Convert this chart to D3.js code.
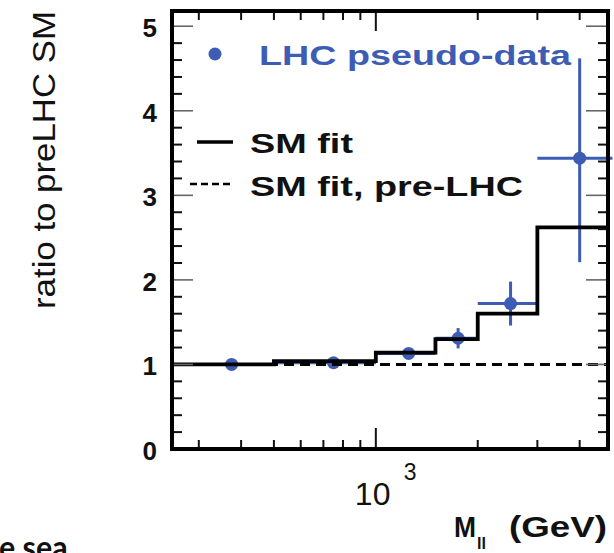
<!DOCTYPE html>
<html>
<head>
<meta charset="utf-8">
<script src="https://cdn.jsdelivr.net/npm/d3@7"></script>
<style>
  html, body { margin: 0; padding: 0; background: #fff; overflow: hidden; }
  svg { display: block; }
</style>
</head>
<body>
<svg id="chart" width="614" height="553"></svg>
<script>
// ---------------- data ----------------
const binEdges   = [250, 500, 1000, 1500, 2000, 3000, 5000];   // GeV
const smFit      = [1.00, 1.04, 1.14, 1.30, 1.60, 2.62];       // SM fit (solid)
const smPreLHC   = [1.00, 1.00, 1.00, 1.00, 1.00, 1.00];       // SM fit, pre-LHC (dashed)
const dataMass   = [375, 750, 1250, 1750, 2500, 4000];         // pseudo-data x
const dataRatio  = [1.00, 1.02, 1.13, 1.31, 1.72, 3.44];       // pseudo-data y
const dataErrLo  = [0.02, 0.02, 0.05, 0.12, 0.26, 1.23];
const dataErrHi  = [0.02, 0.02, 0.05, 0.12, 0.26, 1.18];
const yMajorTicks = [0, 1, 2, 3, 4, 5];
const yMinorTicks = [0.2,0.4,0.6,0.8,1.2,1.4,1.6,1.8,2.2,2.4,2.6,2.8,3.2,3.4,3.6,3.8,4.2,4.4,4.6,4.8];
const xMajorTicks = [1000];
const xMinorTicks = [300, 400, 500, 600, 700, 800, 900, 2000, 3000, 4000];
const yLabel = "ratio to preLHC SM";
const legendLabels = ["LHC pseudo-data", "SM fit", "SM fit, pre-LHC"];

// ---------------- layout ----------------
const svg = d3.select("#chart");
const L = 172, R = 608, T = 11, B = 449;
const blue = "#3d5cb4";

const x = d3.scaleLog().domain([250, 4850]).range([L, R]);
const y = d3.scaleLinear().domain([0, 5.18]).range([B, T]);

svg.append("rect").attr("width", 614).attr("height", 553).attr("fill", "#fff");

svg.append("defs").append("clipPath").attr("id", "frameClip")
  .append("rect").attr("x", L).attr("y", T).attr("width", R - L).attr("height", B - T);

// ---------------- pseudo-data ----------------
const dataG = svg.append("g");
dataMass.forEach((m, i) => {
  dataG.append("line")
    .attr("x1", x(binEdges[i])).attr("x2", x(binEdges[i + 1]))
    .attr("y1", y(dataRatio[i])).attr("y2", y(dataRatio[i]))
    .attr("stroke", blue).attr("stroke-width", 3);
  dataG.append("line")
    .attr("x1", x(m)).attr("x2", x(m))
    .attr("y1", y(dataRatio[i] - dataErrLo[i])).attr("y2", y(dataRatio[i] + dataErrHi[i]))
    .attr("stroke", blue).attr("stroke-width", 3);
  dataG.append("circle")
    .attr("cx", x(m)).attr("cy", y(dataRatio[i])).attr("r", 6.5)
    .attr("fill", blue);
});

// ---------------- fit histograms ----------------
function stepPoints(vals) {
  const pts = vals.map((v, i) => [binEdges[i], v]);
  pts.push([binEdges[binEdges.length - 1], vals[vals.length - 1]]);
  return pts;
}
const stepLine = d3.line().x(d => x(d[0])).y(d => y(d[1])).curve(d3.curveStepAfter);

const fitG = svg.append("g").attr("clip-path", "url(#frameClip)");
fitG.append("path").attr("d", stepLine(stepPoints(smPreLHC)))
  .attr("fill", "none").attr("stroke", "#000").attr("stroke-width", 3)
  .attr("stroke-dasharray", "10,6");
fitG.append("path").attr("d", stepLine(stepPoints(smFit)))
  .attr("fill", "none").attr("stroke", "#000").attr("stroke-width", 3.8);

// ---------------- ticks ----------------
const tickG = svg.append("g");
yMinorTicks.forEach(v => {
  tickG.append("line").attr("x1", L).attr("x2", L + 10).attr("y1", y(v)).attr("y2", y(v))
    .attr("stroke", "#111").attr("stroke-width", 2);
  tickG.append("line").attr("x1", R).attr("x2", R - 10).attr("y1", y(v)).attr("y2", y(v))
    .attr("stroke", "#111").attr("stroke-width", 2);
});
yMajorTicks.forEach(v => {
  tickG.append("line").attr("x1", L).attr("x2", L + 21).attr("y1", y(v)).attr("y2", y(v))
    .attr("stroke", "#666").attr("stroke-width", 1.6);
  tickG.append("line").attr("x1", R).attr("x2", R - 22).attr("y1", y(v)).attr("y2", y(v))
    .attr("stroke", "#666").attr("stroke-width", 1.6);
});
xMinorTicks.forEach(v => {
  tickG.append("line").attr("x1", x(v)).attr("x2", x(v)).attr("y1", B).attr("y2", B - 9)
    .attr("stroke", "#111").attr("stroke-width", 2);
  tickG.append("line").attr("x1", x(v)).attr("x2", x(v)).attr("y1", T).attr("y2", T + 9)
    .attr("stroke", "#111").attr("stroke-width", 2);
});
xMajorTicks.forEach(v => {
  tickG.append("line").attr("x1", x(v)).attr("x2", x(v)).attr("y1", B).attr("y2", B - 21)
    .attr("stroke", "#111").attr("stroke-width", 2);
  tickG.append("line").attr("x1", x(v)).attr("x2", x(v)).attr("y1", T).attr("y2", T + 20)
    .attr("stroke", "#111").attr("stroke-width", 2);
});

// frame
svg.append("rect").attr("x", L).attr("y", T).attr("width", R - L).attr("height", B - T)
  .attr("fill", "none").attr("stroke", "#000").attr("stroke-width", 4);

// ---------------- tick labels ----------------
const font = "'Liberation Sans', Arial, Helvetica, sans-serif";
yMajorTicks.forEach(v => {
  svg.append("text").attr("x", 157).attr("y", y(v) + 11)
    .attr("text-anchor", "end").attr("font-family", font).attr("font-weight", "bold")
    .attr("font-size", 26).attr("fill", "#111").text(v);
});
xMajorTicks.forEach(v => {
  const e = Math.round(Math.log10(v));
  svg.append("text").attr("x", x(v) - 21).attr("y", 505)
    .attr("font-family", font).attr("font-size", 32).attr("fill", "#111").text("10");
  svg.append("text").attr("x", x(v) + 28).attr("y", 480)
    .attr("font-family", font).attr("font-size", 23).attr("fill", "#111").text(e);
});

// ---------------- axis titles ----------------
svg.append("text")
  .attr("transform", `translate(55,${160}) rotate(-90)`)
  .attr("text-anchor", "middle").attr("font-family", font).attr("font-size", 31)
  .attr("textLength", 298).attr("lengthAdjust", "spacingAndGlyphs")
  .attr("fill", "#111").text(yLabel);

const xt = svg.append("g").attr("font-family", font).attr("font-weight", "bold").attr("fill", "#111");
xt.append("text").attr("x", 454).attr("y", 537).attr("font-size", 29)
  .attr("textLength", 22).attr("lengthAdjust", "spacingAndGlyphs").text("M");
xt.append("text").attr("x", 477).attr("y", 549).attr("font-size", 17)
  .attr("textLength", 9).attr("lengthAdjust", "spacingAndGlyphs").text("ll");
xt.append("text").attr("x", 509).attr("y", 537).attr("font-size", 29)
  .attr("textLength", 98).attr("lengthAdjust", "spacingAndGlyphs").text("(GeV)");

// ---------------- legend ----------------
const lg = svg.append("g").attr("font-family", font).attr("font-weight", "bold");
lg.append("circle").attr("cx", 215).attr("cy", 54).attr("r", 6.5).attr("fill", blue);
lg.append("text").attr("x", 259).attr("y", 65).attr("font-size", 28).attr("fill", blue)
  .attr("textLength", 312).attr("lengthAdjust", "spacingAndGlyphs").text(legendLabels[0]);
lg.append("line").attr("x1", 197).attr("x2", 233).attr("y1", 142).attr("y2", 142)
  .attr("stroke", "#000").attr("stroke-width", 3.5);
lg.append("text").attr("x", 250).attr("y", 153).attr("font-size", 27).attr("fill", "#111")
  .attr("textLength", 103).attr("lengthAdjust", "spacingAndGlyphs").text(legendLabels[1]);
lg.append("line").attr("x1", 190).attr("x2", 233).attr("y1", 184).attr("y2", 184)
  .attr("stroke", "#000").attr("stroke-width", 2.5).attr("stroke-dasharray", "7,4");
lg.append("text").attr("x", 250).attr("y", 196).attr("font-size", 27).attr("fill", "#111")
  .attr("textLength", 273).attr("lengthAdjust", "spacingAndGlyphs").text(legendLabels[2]);

// ---------------- slide fragment ----------------
svg.append("text").attr("x", -1).attr("y", 559)
  .attr("font-family", "Lato, 'Open Sans', sans-serif").attr("font-weight", "bold")
  .attr("font-size", 33).attr("fill", "#111")
  .attr("textLength", 92).attr("lengthAdjust", "spacingAndGlyphs").text("e sea…");
</script>
</body>
</html>
